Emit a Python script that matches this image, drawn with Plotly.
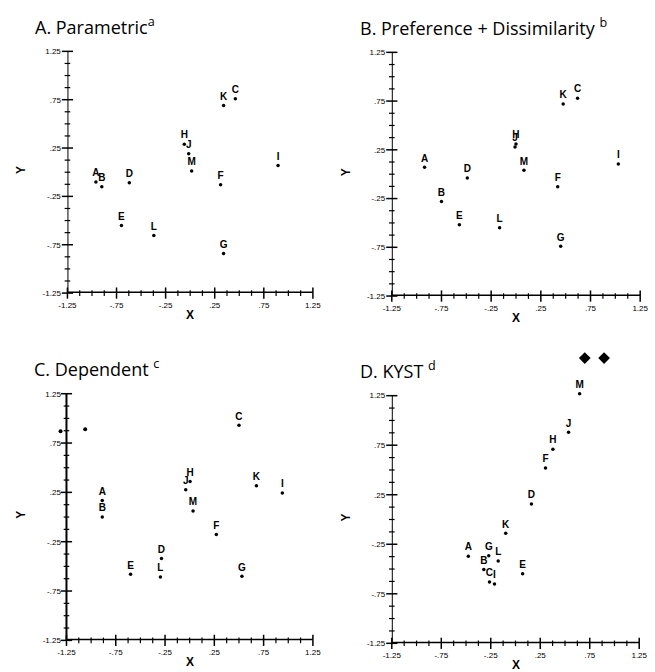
import plotly.graph_objects as go

# ---- data ----
labels_A = ["A", "B", "D", "E", "L", "H", "J", "M", "K", "C", "F", "G", "I"]
x_A = [-0.96, -0.90, -0.62, -0.70, -0.37, -0.06, -0.015, 0.015, 0.34, 0.46, 0.31, 0.34, 0.895]
y_A = [-0.10, -0.15, -0.11, -0.55, -0.655, 0.29, 0.19, 0.013, 0.69, 0.76, -0.13, -0.84, 0.07]

labels_B = ["A", "B", "D", "E", "L", "H", "J", "M", "K", "C", "F", "G", "I"]
x_B = [-0.92, -0.75, -0.49, -0.57, -0.165, 0.0, -0.01, 0.08, 0.475, 0.62, 0.42, 0.45, 1.03]
y_B = [0.07, -0.28, -0.04, -0.52, -0.55, 0.31, 0.28, 0.04, 0.72, 0.78, -0.13, -0.74, 0.105]

labels_C = ["A", "B", "E", "D", "L", "H", "J", "M", "F", "C", "K", "I", "G"]
x_C = [-0.887, -0.887, -0.60, -0.286, -0.297, 0.004, -0.04, 0.034, 0.27, 0.50, 0.677, 0.94, 0.53]
y_C = [0.167, 0.0, -0.58, -0.42, -0.607, 0.36, 0.277, 0.06, -0.177, 0.93, 0.317, 0.243, -0.60]
extra_x_C = [-1.06, -1.31]
extra_y_C = [0.89, 0.87]

labels_D = ["M", "J", "H", "F", "D", "K", "A", "G", "B", "L", "C", "I", "E"]
x_D = [0.648, 0.536, 0.378, 0.303, 0.161, -0.099, -0.477, -0.27, -0.32, -0.175, -0.263, -0.2125, 0.072]
y_D = [1.27, 0.88, 0.71, 0.52, 0.157, -0.14, -0.37, -0.366, -0.505, -0.42, -0.63, -0.65, -0.548]
extra_x_D = [0.70, 0.895]
extra_y_D = [1.63, 1.63]

titles = ["A. Parametric<sup>a</sup>", "B. Preference + Dissimilarity <sup>b</sup>",
          "C. Dependent <sup>c</sup>", "D. KYST <sup>d</sup>"]
axis_lo, axis_hi = -1.25, 1.25
tick_vals = [-1.25, -0.75, -0.25, 0.25, 0.75, 1.25]
tick_text = ["-1.25", "-.75", "-.25", ".25", ".75", "1.25"]
minor_vals = [-1.125, -1.0, -0.875, -0.625, -0.5, -0.375, -0.125, 0.0, 0.125,
              0.375, 0.5, 0.625, 0.875, 1.0, 1.125]

W, H = 655, 672
# pixel boxes of the [-1.25, 1.25] square of each panel: (left, right, top, bottom)
boxes = [(60, 312, 48, 293), (393, 648, 49, 296), (59, 312, 395, 645), (393, 647, 397, 648)]
# axis ranges (C extended left, D extended upward to hold the outlying marks)
x_ranges = [[-1.25, 1.25], [-1.25, 1.25], [-1.35, 1.25], [-1.25, 1.25]]
y_ranges = [[-1.25, 1.25], [-1.25, 1.25], [-1.25, 1.25], [-1.25, 1.70]]

fig = go.Figure()
panels = [(labels_A, x_A, y_A, None, None),
          (labels_B, x_B, y_B, None, None),
          (labels_C, x_C, y_C, extra_x_C, extra_y_C),
          (labels_D, x_D, y_D, extra_x_D, extra_y_D)]

label_font = dict(family="Liberation Sans", size=10, color="black")
for i, (lab, xs, ys, ex, ey) in enumerate(panels):
    n = "" if i == 0 else str(i + 1)
    ax = dict(xaxis="x" + n, yaxis="y" + n, showlegend=False, hoverinfo="skip")
    # axis lines: bottom side and left side of the [-1.25, 1.25] frame
    fig.add_trace(go.Scatter(x=[axis_lo, axis_hi], y=[axis_lo, axis_lo],
                             mode="lines", line=dict(color="black", width=3),
                             cliponaxis=False, **ax))
    fig.add_trace(go.Scatter(x=[axis_lo, axis_lo], y=[axis_lo, axis_hi],
                             mode="lines", line=dict(color="black", width=2),
                             cliponaxis=False, **ax))
    # tick marks
    fig.add_trace(go.Scatter(x=tick_vals, y=[axis_lo] * len(tick_vals), mode="markers",
                             marker=dict(symbol="line-ns", size=8, color="black",
                                         line=dict(color="black", width=1.5)),
                             cliponaxis=False, **ax))
    fig.add_trace(go.Scatter(x=minor_vals, y=[axis_lo] * len(minor_vals), mode="markers",
                             marker=dict(symbol="line-ns", size=4, color="black",
                                         line=dict(color="black", width=1.2)),
                             cliponaxis=False, **ax))
    fig.add_trace(go.Scatter(x=[axis_lo] * len(tick_vals), y=tick_vals, mode="markers",
                             marker=dict(symbol="line-ew", size=8, color="black",
                                         line=dict(color="black", width=1.5)),
                             cliponaxis=False, **ax))
    fig.add_trace(go.Scatter(x=[axis_lo] * len(minor_vals), y=minor_vals, mode="markers",
                             marker=dict(symbol="line-ew", size=4, color="black",
                                         line=dict(color="black", width=1.2)),
                             cliponaxis=False, **ax))
    # the points
    fig.add_trace(go.Scatter(
        x=xs, y=ys, text=["<b>%s</b>" % t for t in lab], mode="markers+text",
        textposition="top center", textfont=label_font,
        marker=dict(size=3.5, color="black"), **ax))
    if ex is not None:
        fig.add_trace(go.Scatter(
            x=ex, y=ey, mode="markers",
            marker=dict(size=4 if i == 2 else 9, color="black",
                        symbol="circle" if i == 2 else "diamond"), **ax))

layout = dict(width=W, height=H, margin=dict(l=0, r=0, t=0, b=0),
              plot_bgcolor="rgba(0,0,0,0)", paper_bgcolor="white", showlegend=False)
axis_common = dict(tickvals=tick_vals, ticktext=tick_text,
                   showgrid=False, zeroline=False, showline=False,
                   ticks="outside", ticklen=4, tickcolor="rgba(0,0,0,0)",
                   tickfont=dict(family="Liberation Sans", size=8, color="black"))
annotations = []
for i, (l, r, t, b) in enumerate(boxes):
    n = "" if i == 0 else str(i + 1)
    xr, yr = x_ranges[i], y_ranges[i]
    px_per_x = (r - l) / 2.5
    px_per_y = (b - t) / 2.5
    dl = l - (-1.25 - xr[0]) * px_per_x
    dt = t - (yr[1] - 1.25) * px_per_y
    xa = dict(axis_common, range=xr, domain=[dl / W, r / W], anchor="y" + n)
    ya = dict(axis_common, range=yr, domain=[1 - b / H, 1 - dt / H], anchor="x" + n)
    if i == 2:
        ya["anchor"] = "free"
        ya["position"] = l / W
    layout["xaxis" + n] = xa
    layout["yaxis" + n] = ya
    # title
    annotations.append(dict(text=titles[i], x=(l - 35) / W, y=1 - (t - 26) / H,
                            xref="paper", yref="paper", xanchor="left", yanchor="middle",
                            showarrow=False,
                            font=dict(family="Open Sans", size=18, color="black")))
    # X label
    annotations.append(dict(text="<b>X</b>", x=(l + r) / 2 / W, y=1 - (b + 22) / H,
                            xref="paper", yref="paper", xanchor="center", yanchor="middle",
                            showarrow=False,
                            font=dict(family="Liberation Sans", size=12, color="black")))
    # Y label
    annotations.append(dict(text="<b>Y</b>", x=(l - 47) / W, y=1 - ((t + b) / 2 - 2) / H,
                            xref="paper", yref="paper", xanchor="center", yanchor="middle",
                            showarrow=False, textangle=-90,
                            font=dict(family="Liberation Sans", size=12, color="black")))
layout["annotations"] = annotations
fig.update_layout(**layout)
fig.write_html("out.html")
